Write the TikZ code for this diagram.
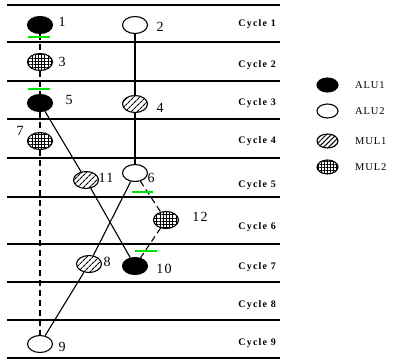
\documentclass[tikz,border=0pt]{standalone}
\usepackage{fontspec}
\setmainfont{Liberation Serif}
\newfontfamily\cyclefont[LetterSpace=12]{Liberation Serif}
\newfontfamily\numfont[LetterSpace=8]{Liberation Serif}
\usetikzlibrary{patterns.meta,shapes.geometric}
\definecolor{tickgreen}{RGB}{0,230,0}
\tikzset{
  op/.style={ellipse, minimum width=25pt, minimum height=17pt, inner sep=0pt, draw=black, line width=1.1pt},
  alu1/.style={op, fill=black},
  alu2/.style={op, fill=white},
  mul1/.style={op, pattern={Lines[angle=45, distance=4pt, line width=1.1pt]}},
  mul2/.style={op, pattern={Hatch[angle=0, distance=3.2pt, line width=0.7pt]}},
  lop/.style={ellipse, minimum width=21pt, minimum height=14pt, inner sep=0pt, draw=black, line width=1.1pt},
  numlbl/.style={font=\numfont\fontsize{14}{14}\selectfont, inner sep=0pt},
  cyclbl/.style={font=\cyclefont\bfseries\fontsize{10}{10}\selectfont, inner sep=0pt, anchor=east},
  leglbl/.style={font=\numfont\fontsize{10.5}{10.5}\selectfont, inner sep=0pt, anchor=west},
  rowline/.style={line width=1.4pt},
  solidedge/.style={line width=1.1pt},
  dashedge/.style={line width=1.1pt, dash pattern=on 6pt off 4pt},
  greentick/.style={line width=1.5pt, draw=tickgreen}
}
\begin{document}
\begin{tikzpicture}[x=1pt,y=-1pt]
\useasboundingbox (0,0) rectangle (393,362);
% row lines
\foreach \yy/\nm in {5/l0,42/l1,81/l2,119/l3,158/l4,197/l5,244/l6,282/l7,320/l8,358/l9}{
  \coordinate (\nm a) at (7,\yy);
  \coordinate (\nm b) at (280,\yy);
  \draw[rowline] (\nm a) -- (\nm b);
}
% cycle labels
\node[cyclbl] (c1) at (276,24) {Cycle 1};
\node[cyclbl] (c2) at (276,65) {Cycle 2};
\node[cyclbl] (c3) at (276,103) {Cycle 3};
\node[cyclbl] (c4) at (276,141) {Cycle 4};
\node[cyclbl] (c5) at (276,185) {Cycle 5};
\node[cyclbl] (c6) at (276,227) {Cycle 6};
\node[cyclbl] (c7) at (276,267) {Cycle 7};
\node[cyclbl] (c8) at (276,305) {Cycle 8};
\node[cyclbl] (c9) at (276,343) {Cycle 9};
% operation nodes
\node[alu1] (n1) at (40,25) {};
\node[alu2] (n2) at (135,25) {};
\node[mul2] (n3) at (40,62) {};
\node[alu1] (n5) at (40,103) {};
\node[mul1] (n4) at (135,104) {};
\node[mul2] (n7) at (40,141) {};
\node[mul1] (n11) at (86,180) {};
\node[alu2] (n6) at (135,173) {};
\node[mul2] (n12) at (166,220) {};
\node[mul1] (n8) at (89,264) {};
\node[alu1] (n10) at (135,266) {};
\node[alu2] (n9) at (40,344) {};
% number labels
\node[numlbl] (t1) at (62,22) {1};
\node[numlbl] (t2) at (160,27) {2};
\node[numlbl] (t3) at (62,62) {3};
\node[numlbl] (t5) at (69,100) {5};
\node[numlbl] (t4) at (160,108) {4};
\node[numlbl] (t7) at (20,131) {7};
\node[numlbl] (t11) at (106,178) {11};
\node[numlbl] (t6) at (151,178) {6};
\node[numlbl] (t12) at (200,217) {12};
\node[numlbl] (t8) at (107,262) {8};
\node[numlbl] (t10) at (164,269) {10};
\node[numlbl] (t9) at (62,347) {9};
% edges
\draw[dashedge] (n1) -- (n3);
\draw[dashedge] (n3) -- (n5);
\draw[dashedge] (n5) -- (n7);
\draw[dashedge] (n7) -- (n9);
\draw[solidedge] (n2) -- (n4);
\draw[solidedge] (n4) -- (n6);
\draw[solidedge] (n5) -- (n11);
\draw[solidedge] (n11) -- (n10);
\draw[solidedge] (n6) -- (n8);
\draw[solidedge] (n8) -- (n9);
\draw[dashedge] (n6) -- (n12);
\draw[dashedge] (n12) -- (n10);
% green ticks
\coordinate (g1a) at (28,37); \coordinate (g1b) at (50,37);
\coordinate (g2a) at (28,89); \coordinate (g2b) at (50,89);
\coordinate (g3a) at (132,192); \coordinate (g3b) at (153,192);
\coordinate (g4a) at (135,251); \coordinate (g4b) at (157,251);
\draw[greentick] (g1a) -- (g1b);
\draw[greentick] (g2a) -- (g2b);
\draw[greentick] (g3a) -- (g3b);
\draw[greentick] (g4a) -- (g4b);
% legend
\node[lop, fill=black] (k1) at (327.5,85) {};
\node[lop, fill=white] (k2) at (327.5,111) {};
\node[lop, pattern={Lines[angle=45, distance=3.5pt, line width=1pt]}] (k3) at (327.5,141) {};
\node[lop, pattern={Hatch[angle=0, distance=3pt, line width=0.7pt]}] (k4) at (327.5,167) {};
\node[leglbl] (kl1) at (355,85) {ALU1};
\node[leglbl] (kl2) at (355,111) {ALU2};
\node[leglbl] (kl3) at (355,141) {MUL1};
\node[leglbl] (kl4) at (355,167) {MUL2};
\end{tikzpicture}
\end{document}
